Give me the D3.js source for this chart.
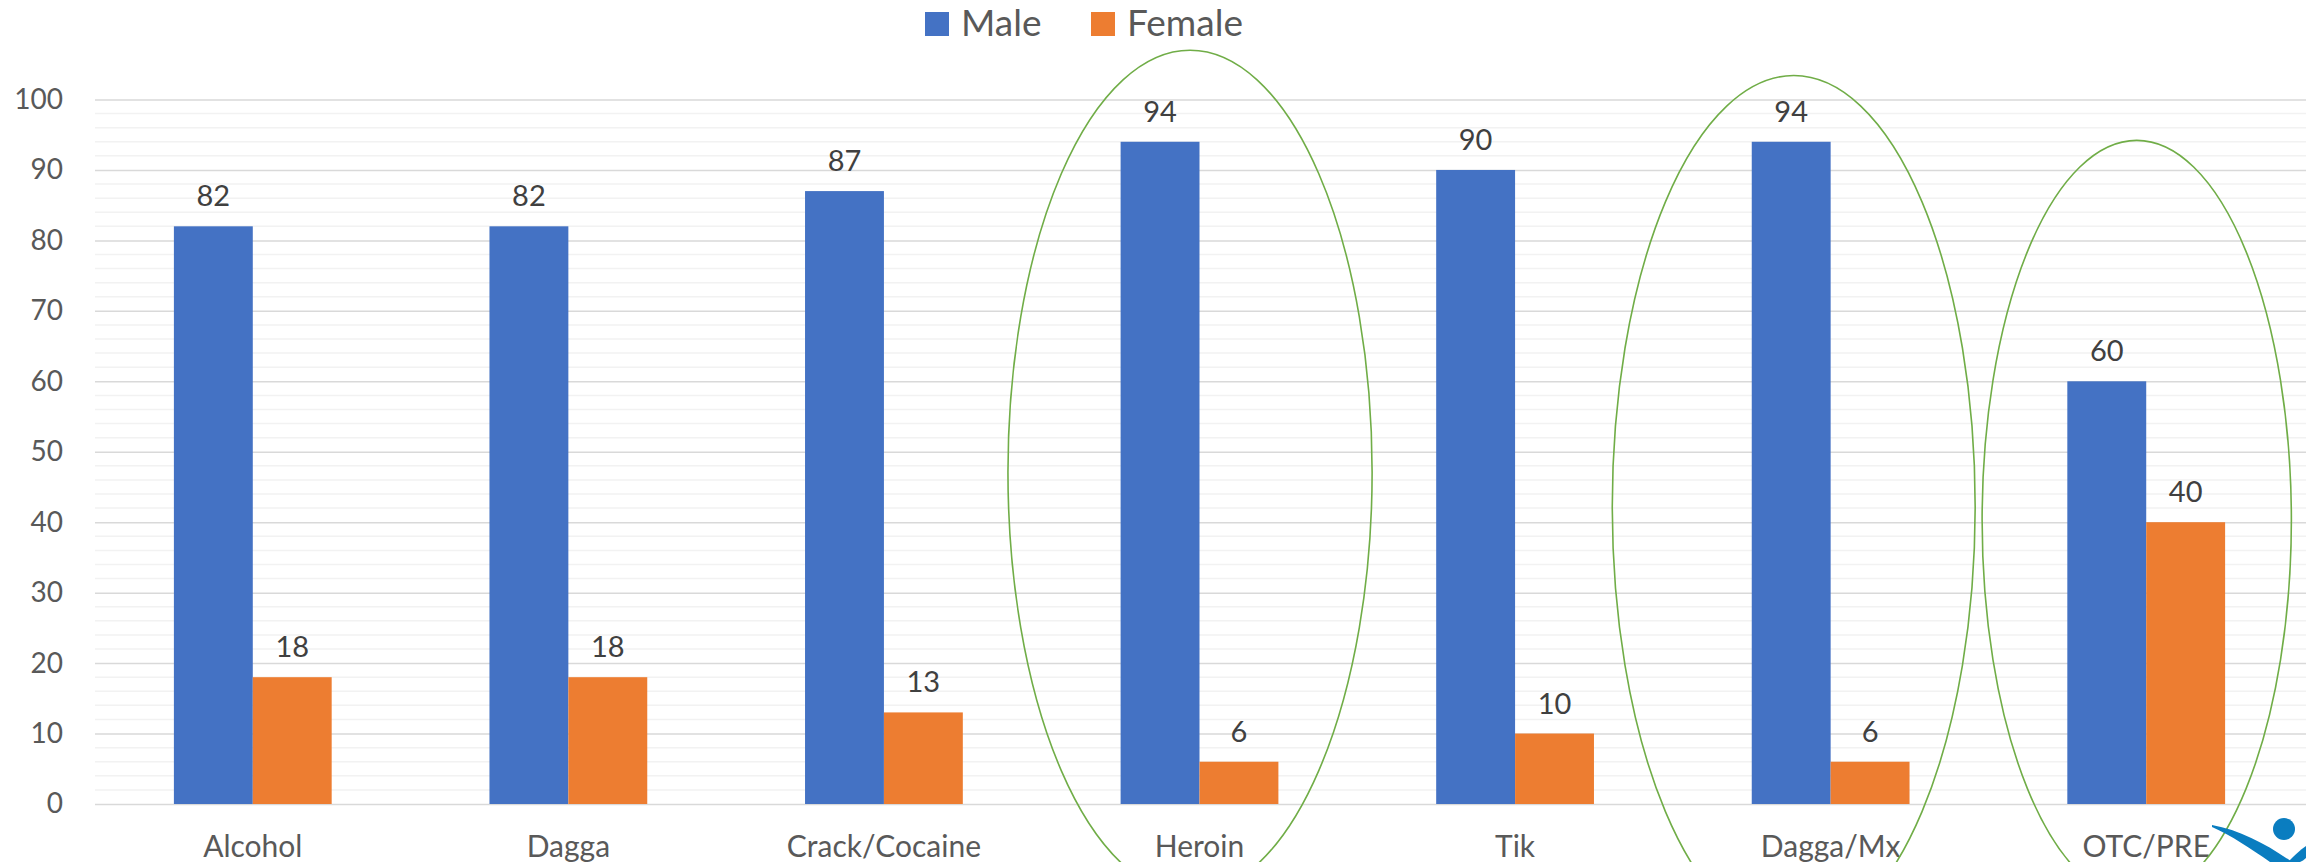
<!DOCTYPE html>
<html>
<head>
<meta charset="utf-8">
<script src="https://cdn.jsdelivr.net/npm/d3@7"></script>
<style>
  html, body { margin: 0; padding: 0; background: #fff; }
  svg { display: block; }
  text { font-family: Lato, "Open Sans", sans-serif; }
</style>
</head>
<body>
<svg id="chart" width="2306" height="862"></svg>
<script>
// ---- data ----
const categories = ["Alcohol", "Dagga", "Crack/Cocaine", "Heroin", "Tik", "Dagga/Mx", "OTC/PRE"];
const seriesNames = ["Male", "Female"];
const maleValues = [82, 82, 87, 94, 90, 94, 60];
const femaleValues = [18, 18, 13, 6, 10, 6, 40];
const yTicks = [0, 10, 20, 30, 40, 50, 60, 70, 80, 90, 100];
const highlighted = ["Heroin", "Dagga/Mx", "OTC/PRE"];

// ---- layout / style ----
const W = 2306, H = 862;
const plot = { left: 95, right: 2304, top: 99.5, bottom: 804 };
const colors = { Male: "#4472C4", Female: "#ED7D31" };

const svg = d3.select("#chart");

const x = d3.scaleBand().domain(categories).range([plot.left, plot.right]).paddingInner(0).paddingOuter(0);
const xs = d3.scaleBand().domain(seriesNames).range([0, x.bandwidth()]).paddingInner(0).paddingOuter(1);
const y = d3.scaleLinear().domain([0, 100]).range([plot.bottom, plot.top]);

// minor grid
const minor = d3.range(0, 101, 2).filter(v => v % 10 !== 0);
svg.append("g").selectAll("line").data(minor).join("line")
  .attr("x1", plot.left).attr("x2", W)
  .attr("y1", d => y(d)).attr("y2", d => y(d))
  .attr("stroke", "#F2F2F2").attr("stroke-width", 1.5);

// major grid via axis
const yAxis = d3.axisLeft(y).tickValues(yTicks).tickSize(-(W - plot.left)).tickPadding(32);
const gy = svg.append("g").attr("transform", `translate(${plot.left},0)`).call(yAxis);
gy.select(".domain").remove();
gy.selectAll(".tick line").attr("stroke", "#D9D9D9").attr("stroke-width", 1.5);
gy.selectAll(".tick text").attr("fill", "#595959").attr("font-size", 28)
  .attr("font-family", "Lato, 'Open Sans', sans-serif");

// x axis labels
const xAxis = d3.axisBottom(x).tickSize(0).tickPadding(0);
const gx = svg.append("g").attr("transform", `translate(0,${plot.bottom})`).call(xAxis);
gx.select(".domain").remove();
gx.selectAll(".tick text").attr("fill", "#595959").attr("font-size", 30)
  .attr("font-family", "Lato, 'Open Sans', sans-serif")
  .attr("dy", null).attr("y", 53);

// bars
const rows = categories.map((c, i) => ({ cat: c, Male: maleValues[i], Female: femaleValues[i] }));
const groups = svg.append("g").selectAll("g").data(rows).join("g")
  .attr("transform", d => `translate(${x(d.cat)},0)`);
groups.selectAll("rect").data(d => seriesNames.map(s => ({ s, v: d[s] }))).join("rect")
  .attr("x", d => xs(d.s)).attr("width", xs.bandwidth())
  .attr("y", d => y(d.v)).attr("height", d => y(0) - y(d.v))
  .attr("fill", d => colors[d.s]);
groups.selectAll("text.lbl").data(d => seriesNames.map(s => ({ s, v: d[s] }))).join("text")
  .attr("class", "lbl")
  .attr("x", d => xs(d.s) + xs.bandwidth() / 2)
  .attr("y", d => y(d.v) - 20)
  .attr("text-anchor", "middle").attr("font-size", 29).attr("fill", "#404040")
  .text(d => d.v);

// highlight ellipses (geometry in band/value units)
const ellipseGeom = {
  "Heroin":   { dx: -0.030, rx: 0.577, cv: 47.1, rv: 59.9 },
  "Dagga/Mx": { dx: -0.117, rx: 0.575, cv: 42.2, rv: 61.2 },
  "OTC/PRE":  { dx: -0.030, rx: 0.490, cv: 40.3, rv: 53.9 }
};
svg.append("g").selectAll("ellipse").data(highlighted).join("ellipse")
  .attr("cx", d => x(d) + x.bandwidth() / 2 + ellipseGeom[d].dx * x.step())
  .attr("cy", d => y(ellipseGeom[d].cv))
  .attr("rx", d => ellipseGeom[d].rx * x.step())
  .attr("ry", d => y(0) - y(ellipseGeom[d].rv))
  .attr("fill", "none").attr("stroke", "#70AD47").attr("stroke-width", 1.6);

// legend
const legend = svg.append("g");
const legendItems = [{ s: "Male", x: 925 }, { s: "Female", x: 1091 }];
legendItems.forEach(it => {
  legend.append("rect").attr("x", it.x).attr("y", 12).attr("width", 24).attr("height", 24).attr("fill", colors[it.s]);
  legend.append("text").attr("x", it.x + 36).attr("y", 36).attr("font-size", 37).attr("fill", "#595959").text(it.s);
});

// logo fragment (bottom right)
const logo = svg.append("g").attr("fill", "#0A7DC0");
logo.append("circle").attr("cx", 2284).attr("cy", 829).attr("r", 11);
logo.append("path").attr("d",
  "M2212,825 C2240,830 2268,845 2292,862 L2270,862 C2250,848 2232,836 2212,827 Z");
logo.append("path").attr("d",
  "M2288,862 C2294,856 2300,850 2306,846 L2306,858 C2304,860 2302,861 2300,862 Z");
</script>
</body>
</html>
